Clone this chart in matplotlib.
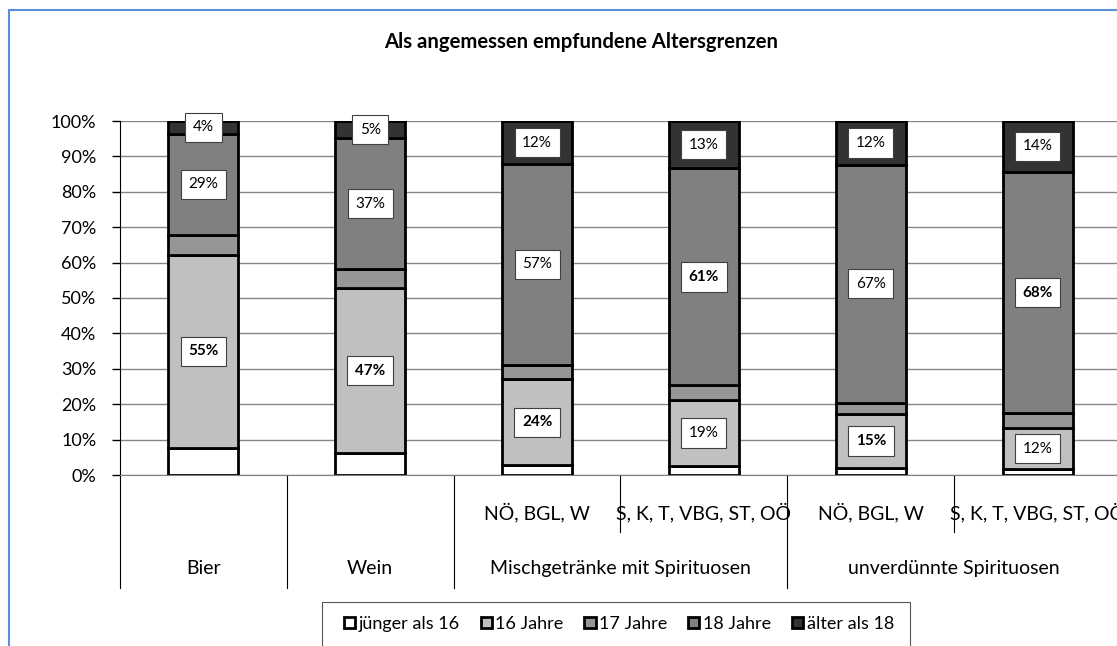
import matplotlib.pyplot as plt
from matplotlib.patches import Patch, Rectangle
from matplotlib.ticker import PercentFormatter
from matplotlib.transforms import blended_transform_factory

plt.rcParams['font.family'] = ['Lato', 'DejaVu Sans']

# Daten (Anteile in %)
groups = ["Bier", "Wein", "Mischgetränke mit Spirituosen", "unverdünnte Spirituosen"]
bar_group = [0, 1, 2, 2, 3, 3]
sub_labels = ["", "", "NÖ, BGL, W", "S, K, T, VBG, ST, OÖ", "NÖ, BGL, W", "S, K, T, VBG, ST, OÖ"]

series_names = ["jünger als 16", "16 Jahre", "17 Jahre", "18 Jahre", "älter als 18"]
juenger16 = [7.6, 6.1, 2.7, 2.5, 2.0, 1.6]
jahre16 = [54.6, 46.8, 24.3, 18.7, 15.2, 11.7]
jahre17 = [5.6, 5.3, 4.2, 4.1, 3.2, 4.1]
jahre18 = [28.6, 36.9, 56.6, 61.3, 67.2, 68.3]
aelter18 = [3.6, 4.9, 12.2, 13.4, 12.4, 14.3]

# welche Serien beschriftet sind, und welche Beschriftungen fett
labelled = [False, True, False, True, True]
bold_16 = [True, True, True, False, True, False]
bold_18 = [False, False, False, True, False, True]
bold_ae = [False] * 6

colors = ["#ffffff", "#c0c0c0", "#969696", "#808080", "#333333"]

W, H = 1117, 646
fig = plt.figure(figsize=(W / 100, H / 100), dpi=100)
ax = fig.add_axes([120 / W, (H - 475) / H, 1001 / W, 354 / H])

data = [juenger16, jahre16, jahre17, jahre18, aelter18]
bolds = [None, bold_16, None, bold_18, bold_ae]
x = list(range(len(bar_group)))
bottom = [0.0] * len(x)
for k, vals in enumerate(data):
    ax.bar(x, vals, width=0.42, bottom=bottom, color=colors[k],
           edgecolor="black", linewidth=2, zorder=3)
    if labelled[k]:
        for i, v in enumerate(vals):
            ax.text(i, bottom[i] + v / 2, f"{v:.0f}%", ha="center", va="center",
                    fontsize=11, fontweight="bold" if bolds[k][i] else "normal",
                    zorder=5,
                    bbox=dict(boxstyle="square,pad=0.5", fc="white", ec="#404040", lw=0.8))
    bottom = [b + v for b, v in zip(bottom, vals)]

ax.set_xlim(-0.5, len(x) - 0.5)
ax.set_ylim(0, 100)
ax.set_yticks(range(0, 101, 10))
ax.yaxis.set_major_formatter(PercentFormatter(decimals=0))
ax.tick_params(axis="y", length=6, width=1, pad=11, labelsize=13, direction="out")
ax.set_xticks([])
ax.grid(axis="y", color="#868686", linewidth=1, zorder=0)
for s in ["top", "right"]:
    ax.spines[s].set_visible(False)
ax.spines["bottom"].set_color("#808080")
ax.spines["left"].set_color("black")

# mehrstufige Kategorienachse
tr = blended_transform_factory(ax.transData, ax.transAxes)
y_sub, y_short = -0.105, -0.161
y_main, y_full = -0.263, -0.319
for b in range(len(x) + 1):
    left = bar_group[b - 1] if b > 0 else None
    right = bar_group[b] if b < len(x) else None
    y_end = y_short if left == right else y_full
    ax.plot([b - 0.5, b - 0.5], [0, y_end], color="black", lw=0.8,
            transform=tr, clip_on=False)
for i, s in enumerate(sub_labels):
    if s:
        ax.text(i, y_sub, s, transform=tr, ha="center", va="center", fontsize=14)
for g, name in enumerate(groups):
    pos = [i for i in x if bar_group[i] == g]
    ax.text(sum(pos) / len(pos), y_main, name, transform=tr,
            ha="center", va="center", fontsize=14)

fig.text(581 / W, 1 - 42 / H, "Als angemessen empfundene Altersgrenzen",
         ha="center", va="center", fontsize=14.6, fontweight="bold")

handles = [Patch(facecolor=c, edgecolor="black", linewidth=2) for c in colors]
leg = fig.legend(handles, series_names, loc="center", ncol=5,
                 bbox_to_anchor=(619 / W, 1 - 624 / H), fontsize=13,
                 frameon=False, borderaxespad=0, borderpad=0,
                 handlelength=0.62, handleheight=0.62, handletextpad=0.2,
                 columnspacing=1.15)
# Legendenrahmen
fig.patches.append(Rectangle((322 / W, -0.05), 588 / W, (H - 602) / H + 0.05,
                             transform=fig.transFigure, fill=False,
                             edgecolor="#555555", linewidth=0.8))

fig.patches.append(Rectangle((9.5 / W, -0.1), 1.0, (H - 10.5) / H + 0.1,
                             transform=fig.transFigure, fill=False,
                             edgecolor="#5b8edb", linewidth=1.5))

fig.savefig("out.png", dpi=100)
